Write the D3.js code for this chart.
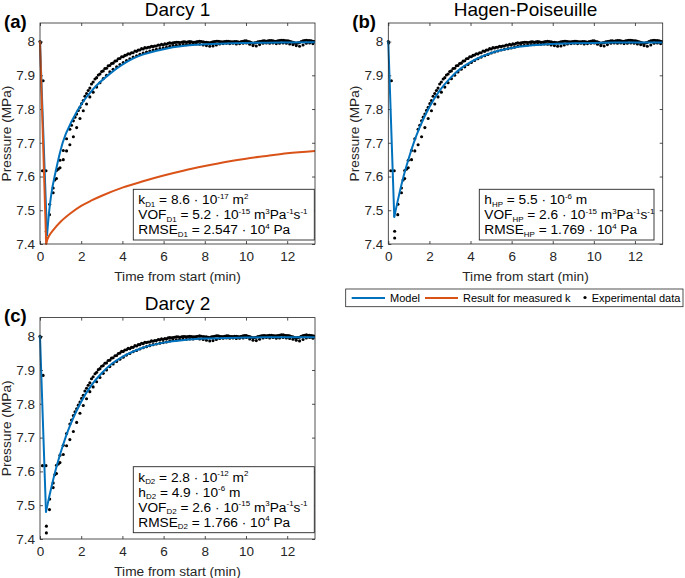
<!DOCTYPE html>
<html><head><meta charset="utf-8">
<script src="https://cdn.jsdelivr.net/npm/d3@7"></script>
<style>
body{margin:0;background:#fff}
svg{display:block}
text{font-family:"Liberation Sans",Arial,Helvetica,sans-serif;white-space:pre}
</style>
</head><body>
<svg id="chart" width="685" height="578"></svg>
<script>
// ---------------- data ----------------
const xTicks = [0, 2, 4, 6, 8, 10, 12];
const yTicks = [7.4, 7.5, 7.6, 7.7, 7.8, 7.9, 8];
const xDomain = [0, 13.35];
const yDomain = [7.4, 8.055];

const panelTitles = ["Darcy 1", "Hagen-Poiseuille", "Darcy 2"];
const panelLetters = ["(a)", "(b)", "(c)"];
const xLabel = "Time from start (min)";
const yLabel = "Pressure (MPa)";
const legendLabels = ["Model", "Result for measured k", "Experimental data"];

// model curve, Darcy 1 (time in min, pressure in MPa)
const modelD1Time = [0, 0.34, 0.45, 0.53, 0.78, 1.1, 1.59, 2.07, 2.59, 3.4, 4.53, 5.83, 7.12, 9.39, 13.35];
const modelD1Pressure = [8.0, 7.425, 7.50, 7.54, 7.62, 7.70, 7.77, 7.82, 7.86, 7.905, 7.95, 7.975, 7.988, 7.995, 7.998];

// result for measured k (Darcy 1 only)
const measuredKTime = [0, 0.30, 0.35, 0.45, 0.65, 1.0, 1.5, 2.0, 2.5, 3.0, 4, 5, 6, 7, 8, 9, 10, 11, 12, 13.35];
const measuredKPressure = [8.0, 7.40, 7.412, 7.425, 7.442, 7.466, 7.492, 7.513, 7.529, 7.543, 7.567, 7.586, 7.603, 7.618, 7.631, 7.643, 7.653, 7.661, 7.669, 7.676];

// model curve, Hagen-Poiseuille and Darcy 2
const modelHPTime = [0, 0.29, 0.5, 0.75, 1.0, 1.25, 1.5, 2.0, 2.5, 3.0, 3.5, 4.0, 5.0, 6.0, 7.0, 8.0, 9.0, 10.0, 11.0, 13.35];
const modelHPPressure = [8.0, 7.48, 7.539, 7.602, 7.655, 7.702, 7.742, 7.806, 7.855, 7.891, 7.919, 7.939, 7.966, 7.981, 7.989, 7.993, 7.995, 7.996, 7.997, 7.997];

// experimental data [time (min), pressure (MPa)]
const expData = [
[0.00,8.000],[0.02,7.996],[0.15,7.884],[0.12,7.617],[0.29,7.617],[0.31,7.438],[0.31,7.418],
[0.47,7.518],[0.46,7.487],[0.64,7.566],[0.64,7.552],[0.72,7.590],[0.80,7.618],[0.80,7.594],
[0.89,7.622],[0.97,7.648],[0.97,7.626],[1.13,7.677],[1.13,7.650],[1.29,7.712],[1.29,7.676],
[1.45,7.740],[1.53,7.752],[1.62,7.765],[1.70,7.776],[1.78,7.785],[1.86,7.796],[1.94,7.805],
[2.02,7.816],[2.10,7.825],[2.18,7.838],[2.26,7.846],[2.34,7.855],[2.42,7.862],[2.50,7.874],
[2.58,7.880],[2.67,7.889],[2.75,7.893],[2.83,7.901],[2.91,7.904],[2.99,7.911],[3.07,7.913],
[3.15,7.920],[3.23,7.921],[3.31,7.928],[3.39,7.929],[3.47,7.935],[3.55,7.936],[3.64,7.942],
[3.72,7.943],[3.80,7.949],[3.88,7.950],[3.96,7.955],[4.04,7.955],[4.12,7.959],[4.20,7.960],
[4.28,7.964],[4.36,7.963],[4.44,7.967],[4.52,7.967],[4.61,7.972],[4.69,7.971],[4.77,7.975],
[4.85,7.975],[4.93,7.979],[5.01,7.978],[5.09,7.982],[5.17,7.981],[5.25,7.983],[5.33,7.983],
[5.41,7.986],[5.49,7.985],[5.57,7.987],[5.65,7.987],[5.74,7.990],[5.82,7.989],[5.90,7.992],
[5.98,7.990],[6.06,7.993],[6.14,7.992],[6.22,7.995],[6.30,7.996],[6.38,7.995],[6.46,7.996],
[6.54,7.997],[6.62,7.998],[6.70,7.998],[6.78,7.997],[6.87,7.998],[6.95,7.999],[7.03,7.999],
[7.11,7.998],[7.19,7.999],[7.27,8.000],[7.35,7.999],[7.43,7.998],[7.51,7.998],[7.59,7.999],
[7.67,8.000],[7.75,8.001],[7.83,8.000],[7.92,7.999],[8.00,7.998],[8.08,7.998],[8.16,7.997],
[8.24,7.996],[8.32,7.998],[8.40,7.999],[8.48,8.000],[8.56,8.001],[8.64,8.001],[8.72,8.000],
[8.80,7.999],[8.89,7.999],[8.97,8.000],[9.05,8.001],[9.13,8.001],[9.21,8.000],[9.29,7.999],
[9.37,7.999],[9.45,8.000],[9.53,8.000],[9.61,7.999],[9.69,7.998],[9.77,8.000],[9.86,8.001],
[9.94,8.002],[10.02,8.002],[10.10,8.000],[10.18,7.999],[10.26,7.997],[10.34,7.995],[10.42,7.996],
[10.50,7.997],[10.58,7.999],[10.66,8.000],[10.74,8.001],[10.83,8.002],[10.91,8.002],[10.99,8.001],
[11.07,8.002],[11.15,8.003],[11.23,8.003],[11.31,8.002],[11.39,8.001],[11.47,8.001],[11.55,8.002],
[11.63,8.003],[11.71,8.004],[11.80,8.004],[11.88,8.003],[11.96,8.002],[12.04,8.002],[12.12,8.001],
[12.20,7.999],[12.28,7.998],[12.36,7.996],[12.44,7.995],[12.52,7.996],[12.60,7.997],[12.68,8.000],
[12.77,8.002],[12.85,8.003],[12.93,8.004],[13.01,8.003],[13.09,8.003],[13.17,8.002],[13.25,8.001],
[13.33,8.000],
// lagging lower row
[1.45,7.694],[1.62,7.718],[1.78,7.745],[1.94,7.772],[2.10,7.795],[2.26,7.815],[2.42,7.836],
[2.58,7.850],[2.75,7.865],[2.91,7.878],[3.07,7.890],[3.23,7.900],[3.39,7.910],[3.55,7.918],
[3.72,7.925],[3.88,7.932],[4.04,7.938],[4.20,7.944],[4.36,7.949],[4.52,7.954],[4.69,7.958],
[4.85,7.962],[5.01,7.966],[5.17,7.969],[5.33,7.972],[5.49,7.975],[5.65,7.977],[5.82,7.979],
[5.98,7.981],[6.14,7.983],[6.30,7.986],[6.46,7.988],[6.62,7.989],[6.78,7.990],[6.95,7.991],
[7.11,7.991],[7.27,7.992],[7.43,7.992],[7.59,7.993],[7.75,7.992],[7.92,7.990],[8.08,7.988],
[8.24,7.986],[8.40,7.987],[8.56,7.990],[8.72,7.993],[8.89,7.994],[9.05,7.995],[9.21,7.994],
[9.37,7.995],[9.53,7.993],[9.69,7.994],[9.86,7.995],[10.02,7.996],[10.18,7.992],[10.34,7.988],
[10.50,7.987],[10.66,7.991],[10.83,7.995],[10.99,7.996],[11.15,7.995],[11.31,7.996],[11.47,7.994],
[11.63,7.995],[11.80,7.996],[11.96,7.995],[12.12,7.993],[12.28,7.991],[12.44,7.988],[12.60,7.986],
[12.77,7.990],[12.93,7.995],[13.09,7.996],[13.25,7.994]
];

const annotD1 = ["k_{D1} = 8.6 · 10^{-17} m^{2}", "VOF_{D1} = 5.2 · 10^{-15} m^{3}Pa^{-1}s^{-1}", "RMSE_{D1} = 2.547 · 10^{4} Pa"];
const annotHP = ["h_{HP} = 5.5 · 10^{-6} m", "VOF_{HP} = 2.6 · 10^{-15} m^{3}Pa^{-1}s^{-1}", "RMSE_{HP} = 1.769 · 10^{4} Pa"];
const annotD2 = ["k_{D2} = 2.8 · 10^{-12} m^{2}", "h_{D2} = 4.9 · 10^{-6} m", "VOF_{D2} = 2.6 · 10^{-15} m^{3}Pa^{-1}s^{-1}", "RMSE_{D2} = 1.766 · 10^{4} Pa"];

// ---------------- drawing ----------------
const BLUE = "#0072BD", ORANGE = "#D95319", AX = "#262626";
const svg = d3.select("#chart");

function zip(t, p) { return t.map((d, i) => [d, p[i]]); }

const panels = [
  {left: 40, right: 315, top: 23, bottom: 244, title: panelTitles[0], letter: panelLetters[0],
   model: zip(modelD1Time, modelD1Pressure), measured: zip(measuredKTime, measuredKPressure),
   annot: annotD1, box: [133.3, 189.3, 314.3, 240]},
  {left: 388.3, right: 662.7, top: 23, bottom: 244, title: panelTitles[1], letter: panelLetters[1],
   model: zip(modelHPTime, modelHPPressure), measured: null,
   annot: annotHP, box: [479.3, 189.3, 654, 240]},
  {left: 40, right: 315, top: 317.6, bottom: 539, title: panelTitles[2], letter: panelLetters[2],
   model: zip(modelHPTime, modelHPPressure), measured: null,
   annot: annotD2, box: [133.3, 466.7, 314.3, 532.7]}
];

function richText(sel, x, y, str, size) {
  const t = sel.append("text").attr("x", x).attr("y", y).attr("font-size", size).attr("fill", "#000");
  const re = /(_|\^)\{([^}]*)\}/g;
  let last = 0, m, cur = 0;
  const segs = [];
  while ((m = re.exec(str)) !== null) {
    if (m.index > last) segs.push({t: str.slice(last, m.index), k: 0});
    segs.push({t: m[2], k: m[1] === "_" ? 1 : -1});
    last = re.lastIndex;
  }
  if (last < str.length) segs.push({t: str.slice(last), k: 0});
  segs.forEach(s => {
    const target = s.k === 1 ? 2.5 : s.k === -1 ? -5.5 : 0;
    const ts = t.append("tspan").text(s.t).attr("dy", target - cur);
    if (s.k !== 0) ts.attr("font-size", size * 0.58);
    cur = target;
  });
}

panels.forEach((P, idx) => {
  const x = d3.scaleLinear().domain(xDomain).range([P.left, P.right]);
  const y = d3.scaleLinear().domain(yDomain).range([P.bottom, P.top]);
  const g = svg.append("g");
  const clipId = "clip" + idx;
  svg.append("clipPath").attr("id", clipId).append("rect")
    .attr("x", P.left - 3).attr("y", P.top).attr("width", P.right - P.left + 3).attr("height", P.bottom - P.top + 3);

  const fs = 13.5;
  const ax = g.append("g").attr("transform", `translate(0,${P.bottom})`)
    .call(d3.axisBottom(x).tickValues(xTicks).tickFormat(d3.format("d")).tickSizeInner(-3).tickSizeOuter(0).tickPadding(7.5));
  const ay = g.append("g").attr("transform", `translate(${P.left},0)`)
    .call(d3.axisLeft(y).tickValues(yTicks).tickFormat(d => String(d)).tickSizeInner(-3).tickSizeOuter(0).tickPadding(5));
  const at = g.append("g").attr("transform", `translate(0,${P.top})`)
    .call(d3.axisTop(x).tickValues(xTicks).tickFormat("").tickSizeInner(-3).tickSizeOuter(0));
  const ar = g.append("g").attr("transform", `translate(${P.right},0)`)
    .call(d3.axisRight(y).tickValues(yTicks).tickFormat("").tickSizeInner(-3).tickSizeOuter(0));
  [ax, ay, at, ar].forEach(a => {
    a.select(".domain").remove();
    a.selectAll("line").attr("stroke", AX).attr("stroke-width", 0.8);
    a.selectAll("text").attr("fill", AX).attr("font-size", fs)
      .attr("font-family", '"Liberation Sans",Arial,Helvetica,sans-serif');
  });

  const plot = g.append("g").attr("clip-path", `url(#${clipId})`);
  plot.selectAll("circle").data(expData).join("circle")
    .attr("cx", d => x(d[0])).attr("cy", d => y(d[1])).attr("r", 1.55).attr("fill", "#000");

  const lineLin = d3.line().x(d => x(d[0])).y(d => y(d[1]));
  const lineSm = d3.line().x(d => x(d[0])).y(d => y(d[1])).curve(d3.curveMonotoneX);
  function drawCurve(pts, color) {
    plot.append("path").attr("d", lineLin(pts.slice(0, 2))).attr("fill", "none")
      .attr("stroke", color).attr("stroke-width", 2).attr("stroke-linecap", "round");
    plot.append("path").attr("d", lineSm(pts.slice(1))).attr("fill", "none")
      .attr("stroke", color).attr("stroke-width", 2).attr("stroke-linejoin", "round");
  }
  drawCurve(P.model, BLUE);
  if (P.measured) drawCurve(P.measured, ORANGE);

  g.append("rect").attr("x", P.left).attr("y", P.top).attr("width", P.right - P.left).attr("height", P.bottom - P.top)
    .attr("fill", "none").attr("stroke", AX).attr("stroke-width", 0.8);

  const cx = (P.left + P.right) / 2;
  g.append("text").attr("x", cx).attr("y", P.top - 7.5).attr("text-anchor", "middle")
    .attr("font-size", 19).attr("fill", "#000").text(P.title);
  g.append("text").attr("x", P.left - 36).attr("y", P.top + 4.5)
    .attr("font-size", 18.5).attr("font-weight", "bold").attr("fill", "#000").text(P.letter);
  g.append("text").attr("x", cx).attr("y", P.bottom + 36.5).attr("text-anchor", "middle")
    .attr("font-size", 13.7).attr("fill", AX).text(xLabel);
  g.append("text").attr("transform", `translate(${P.left - 29},${(P.top + P.bottom) / 2}) rotate(-90)`)
    .attr("text-anchor", "middle").attr("font-size", 13.7).attr("fill", AX).text(yLabel);

  const b = P.box;
  g.append("rect").attr("x", b[0]).attr("y", b[1]).attr("width", b[2] - b[0]).attr("height", b[3] - b[1])
    .attr("fill", "#fff").attr("stroke", AX).attr("stroke-width", 0.9);
  P.annot.forEach((s, i) => richText(g, b[0] + 5, b[1] + 15 + i * 15, s, 13.7));
});

// legend
const lg = svg.append("g");
lg.append("rect").attr("x", 345.7).attr("y", 289).attr("width", 337.3).attr("height", 17.7)
  .attr("fill", "#fff").attr("stroke", AX).attr("stroke-width", 0.8);
const ly = 298;
lg.append("line").attr("x1", 351.7).attr("x2", 385).attr("y1", ly).attr("y2", ly).attr("stroke", BLUE).attr("stroke-width", 2);
lg.append("text").attr("x", 390).attr("y", ly + 4).attr("font-size", 11).attr("fill", "#000").text(legendLabels[0]);
lg.append("line").attr("x1", 425).attr("x2", 458).attr("y1", ly).attr("y2", ly).attr("stroke", ORANGE).attr("stroke-width", 2);
lg.append("text").attr("x", 463).attr("y", ly + 4).attr("font-size", 11).attr("fill", "#000").text(legendLabels[1]);
lg.append("circle").attr("cx", 585).attr("cy", ly - 0.5).attr("r", 1.6).attr("fill", "#000");
lg.append("text").attr("x", 591.7).attr("y", ly + 4).attr("font-size", 11).attr("fill", "#000").text(legendLabels[2]);
</script>
</body></html>
